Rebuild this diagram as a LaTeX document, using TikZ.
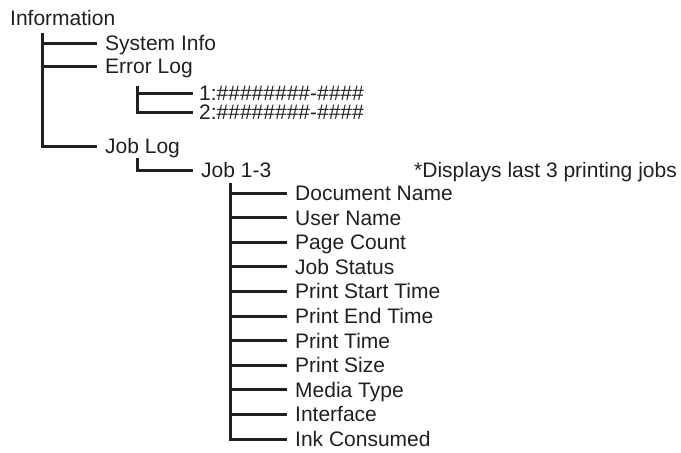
\documentclass[tikz,border=0pt]{standalone}
\usepackage{fontspec}
\setmainfont{Liberation Sans}
\usetikzlibrary{positioning}
\definecolor{ink}{RGB}{35,31,32}
\tikzset{
  lbl/.style={anchor=west,inner sep=0pt,text height=15pt,text depth=0pt,text=ink,
    font=\fontsize{21}{25}\selectfont},
  branch/.style={draw=ink,line width=3pt},
}

\begin{document}
\begin{tikzpicture}[x=1pt,y=-1pt]
  \useasboundingbox (0,0) rectangle (681,453);
  % top level
  \node[lbl] (info) at (10,18) {Information};
  \node[lbl] (sys) at (105,43) {System Info};
  \node[lbl] (err) at (105,66) {Error Log};
  \node[lbl] (joblog) at (105,146) {Job Log};
  \coordinate (t0) at (42,33);
  \foreach \c in {sys,err,joblog}
    \draw[branch] (t0) |- ([xshift=-8pt]\c.west);
  % error log
  \node[lbl] (e1) at (199,93) {1:\#\#\#\#\#\#\#\#-\#\#\#\#};
  \node[lbl] (e2) at (199,112) {2:\#\#\#\#\#\#\#\#-\#\#\#\#};
  \coordinate (t1) at (137,86);
  \foreach \c in {e1,e2}
    \draw[branch] (t1) |- ([xshift=-6pt]\c.west);
  % job log
  \node[lbl] (job) at (201,170) {Job 1-3};
  \node[lbl] (note) at (414,170) {*Displays last 3 printing jobs};
  \coordinate (t2) at (137,158);
  \draw[branch] (t2) |- ([xshift=-8pt]job.west);
  \coordinate (t3) at (230,183);
  \foreach \i/\n in {0/Document Name,1/User Name,2/Page Count,3/Job Status,
      4/Print Start Time,5/Print End Time,6/Print Time,7/Print Size,
      8/Media Type,9/Interface,10/Ink Consumed} {
    \node[lbl] (d\i) at (295,193+\i*24.6) {\n};
    \draw[branch] (t3) |- ([xshift=-8pt]d\i.west);
  }
\end{tikzpicture}
\end{document}
